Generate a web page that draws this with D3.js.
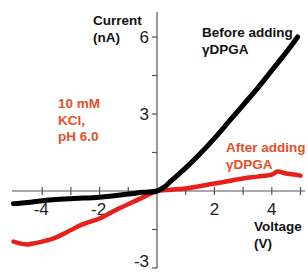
<!DOCTYPE html>
<html>
<head>
<meta charset="utf-8">
<script src="https://cdn.jsdelivr.net/npm/d3@7"></script>
<style>
  body { margin: 0; background: #fff; }
  svg { display: block; font-family: "Liberation Sans", Arial, sans-serif; }
</style>
</head>
<body>
<svg width="308" height="272"></svg>
<script>
// voltage (V) / current (nA)
var beforeV = [-5, -4.5, -4, -3, -2, -1, -0.5, 0, 0.25, 0.5, 1, 1.5, 2, 2.5, 3, 3.5, 4, 4.5, 4.9];
var beforeI = [-0.5, -0.45, -0.38, -0.3, -0.24, -0.12, -0.05, 0, 0.15, 0.4, 0.9, 1.45, 2.05, 2.7, 3.35, 4.0, 4.7, 5.4, 6.0];

var afterV = [-5, -4.75, -4.5, -4.25, -4, -3.6, -3.1, -2.6, -2, -1.4, -0.8, -0.4, 0, 0.5, 1, 2, 3, 3.5, 4, 4.2, 4.5, 4.8, 5];
var afterI = [-1.97, -2.05, -2.08, -2.03, -1.97, -1.85, -1.58, -1.3, -1.07, -0.72, -0.41, -0.2, 0, 0.05, 0.1, 0.29, 0.49, 0.56, 0.64, 0.76, 0.68, 0.64, 0.6];

var xTicks = [-4, -3, -2, -1, 1, 2, 3, 4, 5];
var xLabels = [-4, -2, 2, 4];
var yTicks = [6, 4.5, 3, 1.5, -1.5, -3];
var yLabels = [6, 3, -3];

var svg = d3.select("svg");

var x = d3.scaleLinear().domain([-5, 5]).range([13.5, 300.5]);
var y = d3.scaleLinear().domain([-3, 6]).range([268, 37]);

var axisCol = "#555";

// x axis (through zero), ticks crossing the line
svg.append("line")
    .attr("x1", 12).attr("x2", 305)
    .attr("y1", y(0)).attr("y2", y(0))
    .attr("stroke", axisCol).attr("stroke-width", 1.2);
svg.selectAll(".xt").data(xTicks).enter().append("line")
    .attr("x1", d => x(d)).attr("x2", d => x(d))
    .attr("y1", y(0) - 4).attr("y2", y(0) + 4)
    .attr("stroke", axisCol).attr("stroke-width", 1.2);
svg.selectAll(".xl").data(xLabels).enter().append("text")
    .attr("x", d => x(d) + (d < 0 ? -1 : 0))
    .attr("y", 215)
    .attr("text-anchor", "middle")
    .attr("font-size", 17).attr("fill", "#222")
    .text(d => d);

// y axis, ticks to the left
svg.append("line")
    .attr("x1", x(0)).attr("x2", x(0))
    .attr("y1", 12).attr("y2", y(-3))
    .attr("stroke", axisCol).attr("stroke-width", 1.2);
svg.selectAll(".yt").data(yTicks).enter().append("line")
    .attr("x1", x(0) - 5).attr("x2", x(0))
    .attr("y1", d => y(d)).attr("y2", d => y(d))
    .attr("stroke", axisCol).attr("stroke-width", 1.2);
svg.selectAll(".yl").data(yLabels).enter().append("text")
    .attr("x", x(0) - 8)
    .attr("y", d => Math.min(y(d) + 6, 267))
    .attr("text-anchor", "end")
    .attr("font-size", 17).attr("fill", "#222")
    .text(d => d);

var line = d3.line()
    .x(d => x(d[0]))
    .y(d => y(d[1]))
    .curve(d3.curveCatmullRom);

svg.append("path")
    .datum(d3.zip(afterV, afterI))
    .attr("d", line)
    .attr("fill", "none").attr("stroke", "#e8201c")
    .attr("stroke-width", 4.5).attr("stroke-linecap", "round");

svg.append("path")
    .datum(d3.zip(beforeV, beforeI))
    .attr("d", line)
    .attr("fill", "none").attr("stroke", "#000")
    .attr("stroke-width", 5).attr("stroke-linecap", "round");

// labels
function label(lines, px, py, col) {
  var t = svg.append("text")
      .attr("font-size", 13.5).attr("font-weight", "bold").attr("fill", col);
  lines.forEach(function (s, i) {
    t.append("tspan").attr("x", px).attr("y", py + i * 16.5).text(s);
  });
}
label(["Current", "(nA)"], 93, 25, "#111");
label(["Voltage", "(V)"], 254, 231, "#111");
label(["Before adding", "γDPGA"], 202, 37, "#111");
label(["After adding", "γDPGA"], 226, 152, "#e4502a");
label(["10 mM", "KCl,", "pH 6.0"], 58, 108, "#e4502a");
</script>
</body>
</html>
